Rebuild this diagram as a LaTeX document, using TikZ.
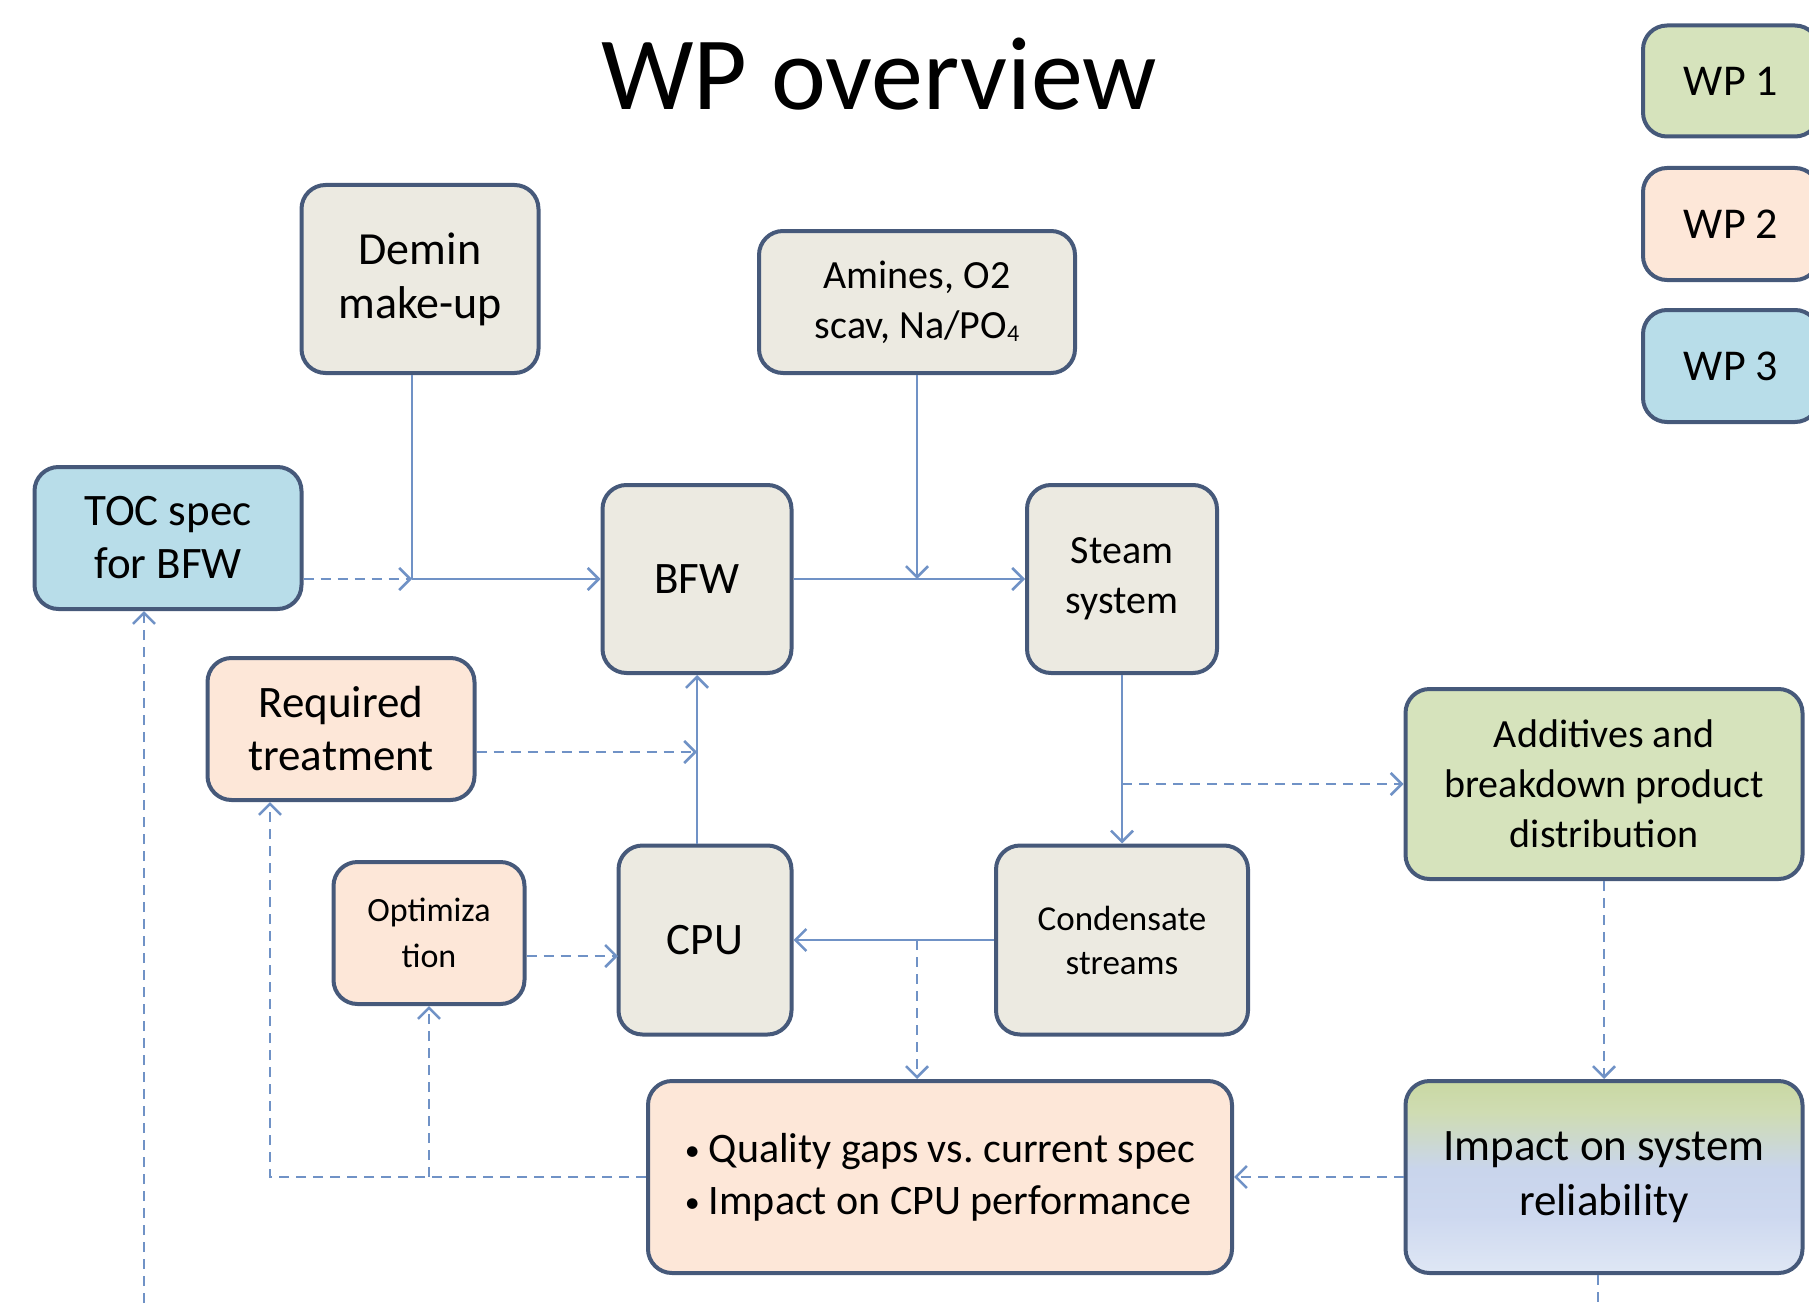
\documentclass[tikz,border=0pt]{standalone}
\usepackage{fontspec}
\setmainfont{Carlito}
\usetikzlibrary{arrows.meta,calc}

\definecolor{boxline}{HTML}{46597A}
\definecolor{flow}{HTML}{7092C6}
\definecolor{fillgray}{HTML}{ECEAE1}
\definecolor{fillpeach}{HTML}{FDE7D8}
\definecolor{fillgreen}{HTML}{D6E3BC}
\definecolor{fillblue}{HTML}{B8DDE9}
\definecolor{relytop}{HTML}{C9D8A3}
\definecolor{relyupper}{HTML}{CFDCB2}
\definecolor{relymid}{HTML}{C9D5EC}
\definecolor{relylow}{HTML}{CDD8EF}
\definecolor{relybot}{HTML}{DFE7F5}

% green-to-blue fill of the reliability box (25bp = bottom edge, 75bp = top edge)
\pgfdeclareverticalshading{relyshade}{100bp}{%
  color(0bp)=(relybot); color(25bp)=(relybot); color(40bp)=(relylow);
  color(52bp)=(relymid); color(67bp)=(relyupper); color(75bp)=(relytop);
  color(100bp)=(relytop)}

\tikzset{
  box/.style={draw=boxline, line width=4pt, rounded corners=24pt,
    align=center, inner sep=0pt, text=black},
  graybox/.style={box, fill=fillgray},
  peachbox/.style={box, fill=fillpeach},
  greenbox/.style={box, fill=fillgreen},
  bluebox/.style={box, fill=fillblue},
  flowline/.style={draw=flow, line width=2.6pt},
  flowdash/.style={flowline, dash pattern=on 10pt off 7pt},
}

\newcommand{\listdot}{{\fontsize{30}{30}\selectfont\raisebox{2pt}{\textbullet}}\hspace{9pt}}

\begin{document}
\begin{tikzpicture}[x=1pt, y=-1pt, >={Straight Barb[length=11pt,width=22pt]}]
\useasboundingbox (0,0) rectangle (1809,1308);

% heading
\node[font=\fontsize{104}{110}\selectfont, anchor=base, inner sep=0pt] (title) at (879,110) {WP overview};

% legend of work packages
\node[greenbox, minimum width=176pt, minimum height=111pt, font=\fontsize{44}{52}\selectfont] (wp1) at (1731,81) {WP 1};
\node[peachbox, minimum width=176pt, minimum height=112pt, font=\fontsize{44}{52}\selectfont] (wp2) at (1731,224) {WP 2};
\node[bluebox, minimum width=176pt, minimum height=112pt, font=\fontsize{44}{52}\selectfont] (wp3) at (1731,366) {WP 3};

% process boxes
\node[graybox, minimum width=237pt, minimum height=188pt, font=\fontsize{46}{54}\selectfont] (demin) at (420,279) {Demin\\make-up};
\node[graybox, minimum width=316pt, minimum height=142pt, font=\fontsize{40}{50}\selectfont] (amines) at (917,302)
  {Amines, O2\\scav, Na/PO{\fontsize{24}{24}\selectfont\raisebox{-3pt}{4}}};
\node[bluebox, minimum width=267pt, minimum height=142pt, font=\fontsize{45}{53}\selectfont] (toc) at (168,538) {TOC spec\\for BFW};
\node[graybox, minimum width=189pt, minimum height=188pt, font=\fontsize{45}{53}\selectfont] (bfw) at (697,579) {BFW};
\node[graybox, minimum width=190pt, minimum height=188pt, font=\fontsize{40}{50}\selectfont] (steam) at (1122,579) {Steam\\system};
\node[peachbox, minimum width=267pt, minimum height=142pt, font=\fontsize{45}{53}\selectfont] (req) at (341,729) {Required\\treatment};
\node[peachbox, minimum width=191pt, minimum height=142pt, font=\fontsize{34}{46}\selectfont] (opt) at (429,933) {Optimiza\\tion};
\node[graybox, minimum width=173pt, minimum height=189pt, font=\fontsize{45}{53}\selectfont] (cpu) at (705,940) {CPU};
\node[graybox, minimum width=252pt, minimum height=189pt, font=\fontsize{35}{44}\selectfont] (cond) at (1122,940) {Condensate\\streams};
\node[greenbox, minimum width=397pt, minimum height=190pt, font=\fontsize{40}{50}\selectfont] (add) at (1604,784)
  {Additives and\\breakdown product\\distribution};
\node[box, shading=relyshade,
  minimum width=397pt, minimum height=192pt, font=\fontsize{45}{55}\selectfont] (imp) at (1604,1177)
  {Impact on system\\reliability};
\node[peachbox, minimum width=584pt, minimum height=192pt, font=\fontsize{42}{52}\selectfont\frenchspacing, align=left] (qual) at (940,1177)
  {\listdot Quality gaps vs. current spec\\\listdot Impact on CPU performance};

% junction points on the main water loop
\coordinate (j1) at (412,579);
\coordinate (j2) at (amines.south |- bfw.east);
\coordinate (j3) at (steam.south |- add.west);
\coordinate (j4) at (917,940);
\coordinate (j5) at (697,752);
\coordinate (j6) at (618,956);
\coordinate (q1) at (270,1177);
\coordinate (q2) at (opt.south |- qual.west);
\coordinate (b1) at (144,1320);
\coordinate (b2) at (1598,1320);

% solid flows
\draw[flowline] (demin.south -| j1) -- (j1);
\draw[flowline,->] (j1) -- (bfw.west);
\draw[flowline,->] (bfw.east) -- (steam.west);
\draw[flowline,->] (amines.south) -- (j2);
\draw[flowline,->] (steam.south) -- (cond.north);
\draw[flowline,->] (cond.west) -- (cpu.east);
\draw[flowline,->] (cpu.north -| bfw.south) -- (bfw.south);

% dashed information links
\draw[flowdash,->] (toc.east |- j1) -- (j1);
\draw[flowdash,->] (j3) -- (add.west);
\draw[flowdash,->] (j4) -- (j4 |- qual.north);
\draw[flowdash,->] (req.east |- j5) -- (j5);
\draw[flowdash,->] (opt.east |- j6) -- (j6);
\draw[flowdash,->] (qual.west) -- (q1) -- (q1 |- req.south);
\draw[flowdash,->] (q2) -- (opt.south);
\draw[flowdash,->] (imp.west) -- (qual.east);
\draw[flowdash,->] (add.south) -- (imp.north);
\draw[flowdash,->] (b1) -- (b1 |- toc.south);
\draw[flowdash] (imp.south -| b2) -- (b2);
\end{tikzpicture}
\end{document}
